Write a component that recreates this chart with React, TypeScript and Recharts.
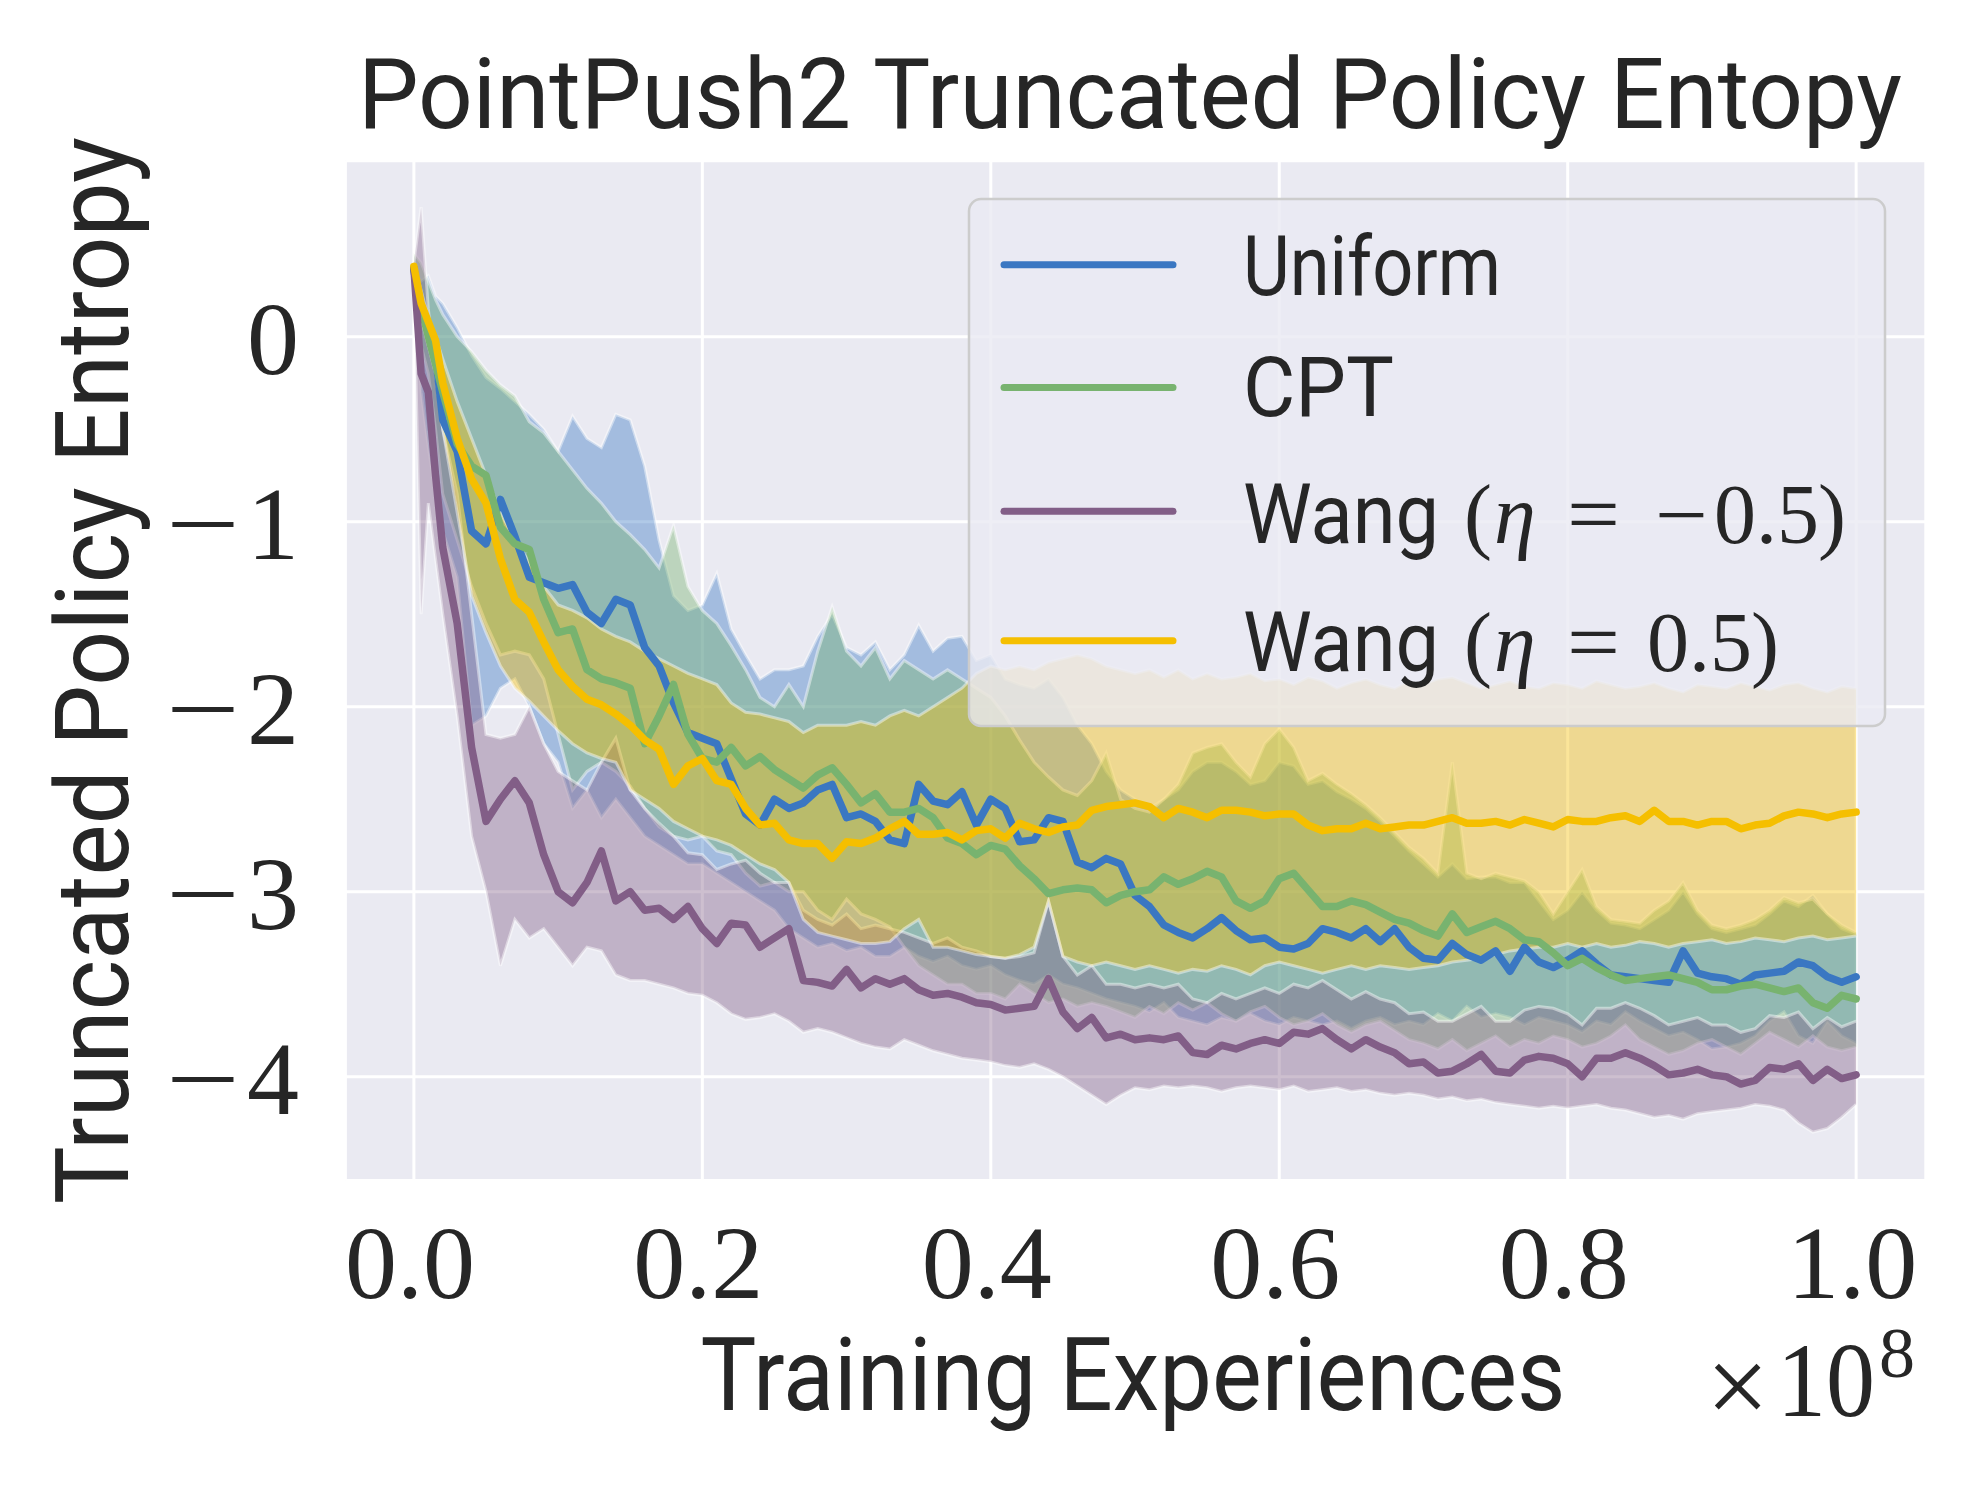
import React from 'react';
import { ComposedChart, Area, Line, XAxis, YAxis, CartesianGrid } from 'recharts';

// Training experiences (x 1e8)
const xs = [
  0, 0.005, 0.01, 0.015, 0.02,
  0.03, 0.04, 0.05, 0.06, 0.07, 0.08, 0.09,
  0.10, 0.11, 0.12, 0.13, 0.14, 0.15, 0.16, 0.17, 0.18, 0.19,
  0.20, 0.21, 0.22, 0.23, 0.24, 0.25, 0.26, 0.27, 0.28, 0.29,
  0.30, 0.31, 0.32, 0.33, 0.34, 0.35, 0.36, 0.37, 0.38, 0.39,
  0.40, 0.41, 0.42, 0.43, 0.44, 0.45, 0.46, 0.47, 0.48, 0.49,
  0.50, 0.51, 0.52, 0.53, 0.54, 0.55, 0.56, 0.57, 0.58, 0.59,
  0.60, 0.61, 0.62, 0.63, 0.64, 0.65, 0.66, 0.67, 0.68, 0.69,
  0.70, 0.71, 0.72, 0.73, 0.74, 0.75, 0.76, 0.77, 0.78, 0.79,
  0.80, 0.81, 0.82, 0.83, 0.84, 0.85, 0.86, 0.87, 0.88, 0.89,
  0.90, 0.91, 0.92, 0.93, 0.94, 0.95, 0.96, 0.97, 0.98, 0.99,
  1.0,
];

const uniformMean = [
  0.36, 0.12, 0.05, -0.1, -0.45,
  -0.62, -1.05, -1.12, -0.88, -1.08, -1.3, -1.33,
  -1.36, -1.34, -1.49, -1.55, -1.42, -1.45, -1.68, -1.78, -1.98, -2.14,
  -2.17, -2.2, -2.39, -2.58, -2.64, -2.5, -2.55, -2.52, -2.45, -2.42,
  -2.6, -2.58, -2.62, -2.72, -2.74, -2.42, -2.51, -2.53, -2.46, -2.64,
  -2.5, -2.55, -2.73, -2.72, -2.6, -2.62, -2.84, -2.87, -2.82, -2.85,
  -3.02, -3.08, -3.18, -3.22, -3.25, -3.2, -3.14, -3.21, -3.26, -3.25,
  -3.3, -3.31, -3.28, -3.2, -3.22, -3.25, -3.2, -3.27, -3.2, -3.3,
  -3.36, -3.37, -3.28, -3.34, -3.37, -3.32, -3.43, -3.3, -3.38, -3.41,
  -3.37, -3.32, -3.39, -3.45, -3.46, -3.47, -3.48, -3.49, -3.32, -3.44,
  -3.46, -3.47, -3.5, -3.45, -3.44, -3.43, -3.38, -3.4, -3.46, -3.49,
  -3.46,
];
const uniformLo = [
  0.36, -0.3, -0.6, -0.85, -1.05,
  -1.3, -2.1, -2.05, -1.9, -1.85, -2.0, -2.2,
  -2.3, -2.55, -2.45, -2.6, -2.5, -2.6, -2.7, -2.75, -2.8, -2.85,
  -2.85, -2.9, -2.95, -3.0, -3.05, -3.1, -3.2, -3.25, -3.3, -3.28,
  -3.32, -3.3, -3.35, -3.35, -3.3, -3.35, -3.38, -3.35, -3.4, -3.42,
  -3.4, -3.45, -3.48, -3.5, -3.45, -3.5, -3.52, -3.55, -3.58, -3.6,
  -3.62, -3.65, -3.6, -3.68, -3.7, -3.72, -3.68, -3.7, -3.66, -3.7,
  -3.72, -3.68, -3.7, -3.72, -3.7, -3.74, -3.7, -3.68, -3.72, -3.7,
  -3.72, -3.66, -3.7, -3.62, -3.68, -3.66, -3.68, -3.72, -3.68, -3.7,
  -3.72, -3.76, -3.7, -3.72, -3.65, -3.7, -3.74, -3.78, -3.76, -3.8,
  -3.85, -3.84, -3.82, -3.78, -3.7, -3.65, -3.78, -3.82, -3.7, -3.78,
  -3.82,
];
const uniformHi = [
  0.36, 0.3, 0.33, 0.22, 0.18,
  0.05, -0.1, -0.22, -0.28, -0.35, -0.42, -0.5,
  -0.62, -0.43, -0.55, -0.6, -0.42, -0.45, -0.7, -1.1, -1.4, -1.48,
  -1.45, -1.28, -1.58, -1.72, -1.85, -1.8, -1.8, -1.78, -1.62, -1.5,
  -1.68, -1.72, -1.65, -1.8, -1.72, -1.56, -1.7, -1.63, -1.62, -1.75,
  -1.72, -1.85, -1.88, -1.9, -1.85, -1.95, -2.1, -2.2, -2.35, -2.45,
  -2.5, -2.55, -2.5, -2.45, -2.35, -2.3, -2.3, -2.35, -2.42, -2.4,
  -2.3, -2.32, -2.42, -2.4, -2.46, -2.5, -2.55, -2.62, -2.7, -2.78,
  -2.85, -2.92, -2.85, -2.93, -2.92, -2.92, -2.95, -2.95, -3.05, -3.15,
  -3.1, -3.0, -3.1, -3.17, -3.18, -3.2, -3.15, -3.1, -3.0, -3.12,
  -3.2, -3.22, -3.2, -3.18, -3.12, -3.05, -3.08, -3.02, -3.12, -3.2,
  -3.23,
];

const cptMean = [
  0.37, 0.16, 0.0, -0.15, -0.3,
  -0.58, -0.7, -0.75, -1.03, -1.12, -1.15, -1.42,
  -1.6, -1.58, -1.8, -1.85, -1.87, -1.9, -2.2, -2.05, -1.88, -2.15,
  -2.28, -2.3, -2.22, -2.32, -2.27, -2.34, -2.39, -2.44, -2.37, -2.33,
  -2.42, -2.52, -2.47, -2.57, -2.57, -2.55, -2.6, -2.71, -2.74, -2.8,
  -2.75, -2.77, -2.86, -2.93, -3.01, -2.99, -2.98, -2.99, -3.06, -3.02,
  -3.0, -2.99, -2.92, -2.96, -2.93, -2.89, -2.92, -3.05, -3.09, -3.05,
  -2.93, -2.9, -2.99, -3.08, -3.08, -3.05, -3.07, -3.11, -3.15, -3.17,
  -3.21, -3.24, -3.12, -3.22, -3.19, -3.16, -3.2, -3.26, -3.27, -3.33,
  -3.4, -3.36, -3.41, -3.45, -3.48, -3.47, -3.46, -3.45, -3.47, -3.49,
  -3.53, -3.53, -3.51, -3.5, -3.52, -3.54, -3.52, -3.6, -3.63, -3.56,
  -3.58,
];
const cptLo = [
  0.3, -0.05, -0.2, -0.5, -0.85,
  -1.1, -1.35, -1.55, -1.72, -1.7, -1.72, -1.85,
  -2.15, -2.45, -2.35, -2.3, -2.35, -2.43, -2.55, -2.65, -2.7, -2.72,
  -2.7, -2.78, -2.8, -2.9, -2.97, -2.95, -3.0, -3.0, -3.1, -3.15,
  -3.04, -3.12, -3.15, -3.19, -3.3, -3.4, -3.45, -3.5, -3.5, -3.55,
  -3.55, -3.58, -3.5, -3.55, -3.6, -3.58, -3.62, -3.6, -3.62, -3.65,
  -3.68, -3.62, -3.66, -3.6, -3.64, -3.6, -3.66, -3.7, -3.65, -3.62,
  -3.68, -3.72, -3.7, -3.66, -3.72, -3.76, -3.72, -3.7, -3.75, -3.8,
  -3.82, -3.85, -3.8, -3.86, -3.82, -3.78, -3.84, -3.8, -3.82, -3.78,
  -3.8, -3.84, -3.82, -3.78, -3.72, -3.8, -3.84, -3.88, -3.86, -3.82,
  -3.8, -3.84, -3.88, -3.82, -3.76, -3.8, -3.84, -3.78, -3.84, -3.86,
  -3.84,
];
const cptHi = [
  0.45, 0.4, 0.3, 0.2, 0.12,
  0.0, -0.08, -0.18, -0.26, -0.32, -0.46, -0.52,
  -0.62, -0.72, -0.82, -0.9, -1.0, -1.07, -1.15, -1.25, -1.02, -1.35,
  -1.48, -1.55, -1.67, -1.8, -1.95, -2.0, -1.88, -2.0, -1.7, -1.46,
  -1.7, -1.78, -1.68, -1.85, -1.75, -1.8, -1.85, -1.8, -1.85, -1.9,
  -1.95, -2.05, -2.18, -2.3, -2.38, -2.45, -2.48, -2.4, -2.25, -2.5,
  -2.55, -2.57, -2.5, -2.42, -2.25, -2.22, -2.2, -2.3, -2.38, -2.2,
  -2.12, -2.22, -2.4, -2.36, -2.42, -2.47, -2.53, -2.6, -2.68, -2.76,
  -2.82, -2.9, -2.3, -2.9, -2.93, -2.9, -2.92, -2.94, -3.0, -3.12,
  -3.0, -2.88, -3.08, -3.15, -3.16, -3.17, -3.1, -3.05, -2.95, -3.1,
  -3.18, -3.2, -3.18, -3.15, -3.1, -3.03, -3.06, -3.04, -3.12, -3.18,
  -3.22,
];

const wangNegMean = [
  0.37, -0.2, -0.3, -0.75, -1.14,
  -1.55, -2.22, -2.62, -2.5, -2.4, -2.52, -2.8,
  -3.0, -3.06, -2.95, -2.78, -3.05, -3.0, -3.1, -3.09, -3.15, -3.08,
  -3.2, -3.28, -3.17, -3.18, -3.3, -3.25, -3.2, -3.48, -3.49, -3.51,
  -3.42, -3.52, -3.47, -3.5, -3.47, -3.53, -3.56, -3.55, -3.57, -3.6,
  -3.61, -3.64, -3.63, -3.62, -3.47, -3.65, -3.74, -3.68, -3.79, -3.77,
  -3.8, -3.79, -3.8, -3.78, -3.87, -3.88, -3.83, -3.85, -3.82, -3.8,
  -3.82, -3.76, -3.77, -3.74, -3.8, -3.85, -3.8, -3.84, -3.87, -3.93,
  -3.92, -3.98, -3.97, -3.93, -3.88, -3.97, -3.98, -3.91, -3.89, -3.9,
  -3.93, -4.0, -3.9, -3.9, -3.87, -3.9, -3.94, -3.99, -3.98, -3.96,
  -3.99, -4.0, -4.04, -4.02, -3.95, -3.96, -3.93, -4.02, -3.96, -4.01,
  -3.99,
];
const wangNegLo = [
  0.3, -1.5, -0.9, -1.2, -1.5,
  -2.05, -2.7, -3.0, -3.4, -3.15, -3.25, -3.2,
  -3.3, -3.4, -3.3, -3.32, -3.45, -3.48, -3.48, -3.5, -3.52, -3.55,
  -3.56, -3.6, -3.66, -3.69, -3.68, -3.66, -3.7, -3.76, -3.74, -3.76,
  -3.79, -3.82, -3.84, -3.85, -3.8, -3.83, -3.86, -3.88, -3.9, -3.91,
  -3.92, -3.94, -3.95, -3.93, -3.96, -4.0, -4.05, -4.1, -4.15, -4.1,
  -4.06, -4.07, -4.05, -4.06, -4.05, -4.06, -4.08, -4.06, -4.05, -4.06,
  -4.07, -4.05, -4.08, -4.07, -4.06, -4.08, -4.07, -4.09, -4.1, -4.09,
  -4.1, -4.12, -4.11, -4.13, -4.12, -4.14, -4.15, -4.16, -4.17, -4.16,
  -4.17, -4.16, -4.15, -4.17, -4.18, -4.2, -4.22, -4.21, -4.23, -4.2,
  -4.19, -4.18, -4.17, -4.15, -4.16, -4.18, -4.25, -4.3, -4.28, -4.22,
  -4.15,
];
const wangNegHi = [
  0.4, 0.7, 0.15, -0.2, -0.5,
  -0.85, -1.5, -2.15, -2.17, -2.15, -2.0, -2.2,
  -2.35, -2.4, -2.45, -2.3, -2.17, -2.45, -2.55, -2.63, -2.7, -2.79,
  -2.8, -2.88, -2.85, -2.83, -2.9, -2.95, -2.95, -3.1, -3.15, -3.18,
  -3.12, -3.2, -3.18, -3.2, -3.22, -3.25, -3.28, -3.25, -3.3, -3.32,
  -3.35, -3.36, -3.35, -3.33, -3.05, -3.35, -3.45, -3.4, -3.5, -3.5,
  -3.52, -3.5, -3.52, -3.5, -3.58, -3.6, -3.55, -3.58, -3.55, -3.52,
  -3.55, -3.5, -3.52, -3.48, -3.53, -3.58, -3.54, -3.58, -3.6, -3.66,
  -3.65, -3.7, -3.7, -3.66, -3.62, -3.7, -3.7, -3.64, -3.62, -3.63,
  -3.66, -3.72, -3.63, -3.63, -3.6, -3.63, -3.67, -3.72, -3.7, -3.68,
  -3.72, -3.72, -3.76, -3.74, -3.67, -3.68, -3.65, -3.74, -3.68, -3.73,
  -3.7,
];

const wangPosMean = [
  0.38, 0.18, 0.08, -0.02, -0.25,
  -0.55, -0.77, -0.9, -1.2, -1.42, -1.49, -1.65,
  -1.8, -1.89, -1.96, -1.99, -2.04, -2.1, -2.18, -2.23, -2.42, -2.32,
  -2.28, -2.4, -2.42, -2.55, -2.64, -2.63, -2.72, -2.74, -2.74, -2.82,
  -2.73, -2.74, -2.71, -2.66, -2.62, -2.69, -2.69, -2.68, -2.72, -2.67,
  -2.66, -2.71, -2.63, -2.66, -2.68, -2.65, -2.64, -2.56, -2.54, -2.53,
  -2.52, -2.54, -2.6, -2.55, -2.57, -2.6, -2.56, -2.56, -2.57, -2.59,
  -2.58, -2.58, -2.64, -2.67, -2.66, -2.66, -2.63, -2.66, -2.65, -2.64,
  -2.64, -2.62, -2.6, -2.63, -2.63, -2.62, -2.64, -2.61, -2.63, -2.65,
  -2.61, -2.62, -2.62, -2.6, -2.59, -2.62, -2.56, -2.62, -2.62, -2.64,
  -2.62, -2.62, -2.66, -2.64, -2.63, -2.59, -2.57, -2.58, -2.6, -2.58,
  -2.57,
];
const wangPosLo = [
  0.35, 0.1, -0.05, -0.2, -0.5,
  -0.95, -1.4, -1.6, -1.78, -1.9, -1.97, -2.05,
  -2.13, -2.2, -2.25, -2.28, -2.3, -2.45, -2.5, -2.55, -2.62, -2.66,
  -2.7, -2.72, -2.75, -2.8, -2.85, -2.88, -2.95, -3.15, -3.22, -3.24,
  -3.26, -3.28, -3.28, -3.27, -3.2, -3.15, -3.3, -3.3, -3.32, -3.34,
  -3.35, -3.36, -3.34, -3.3, -3.05, -3.35, -3.38, -3.4, -3.38, -3.4,
  -3.42, -3.4, -3.42, -3.44, -3.42, -3.43, -3.4, -3.42, -3.45, -3.4,
  -3.38, -3.4, -3.42, -3.44, -3.42, -3.4, -3.42, -3.4, -3.41, -3.42,
  -3.41, -3.4, -3.38, -3.37, -3.36, -3.34, -3.32, -3.31, -3.3, -3.3,
  -3.28, -3.3, -3.28, -3.3, -3.29, -3.27, -3.28, -3.3, -3.28, -3.27,
  -3.26, -3.28, -3.27, -3.25, -3.26, -3.27, -3.25, -3.24, -3.26, -3.25,
  -3.24,
];
const wangPosHi = [
  0.4, 0.25, 0.1, 0.0, -0.12,
  -0.35, -0.55, -0.75, -0.95, -1.1, -1.22, -1.35,
  -1.45, -1.48, -1.52, -1.58, -1.62, -1.65, -1.7, -1.74, -1.78, -1.82,
  -1.85, -1.88, -1.98, -2.03, -2.04, -2.06, -2.08, -2.14, -2.1, -2.1,
  -2.1, -2.08, -2.1, -2.05, -2.02, -2.05, -2.0, -1.95, -1.9, -1.82,
  -1.78, -1.8, -1.78, -1.8, -1.76, -1.74, -1.72, -1.74, -1.78, -1.8,
  -1.82, -1.8, -1.84, -1.8, -1.85, -1.82, -1.85, -1.84, -1.82, -1.86,
  -1.85, -1.88, -1.84, -1.86, -1.9, -1.87, -1.85, -1.88, -1.9, -1.86,
  -1.88, -1.85, -1.84, -1.87, -1.9, -1.88, -1.86, -1.89, -1.9, -1.87,
  -1.88, -1.9, -1.86, -1.88, -1.9, -1.89, -1.87, -1.9, -1.92, -1.88,
  -1.89, -1.9, -1.87, -1.89, -1.91, -1.88, -1.87, -1.9, -1.92, -1.89,
  -1.9,
];

const xTicks = [0, 0.2, 0.4, 0.6, 0.8, 1.0];
const yTicks = [-4, -3, -2, -1, 0];

const seriesNames = ['Uniform', 'CPT', 'Wang (η = −0.5)', 'Wang (η = 0.5)'];
const COLORS = ['#3A77C2', '#78B36F', '#825E87', '#F5BF00'];

const TEXT = '#262626';
const SANS = "Roboto, 'Noto Sans', sans-serif";
const SERIF = "'Liberation Serif', 'DejaVu Serif', serif";

const data = xs.map((x, i) => ({
  x,
  uMean: uniformMean[i],
  uBand: [uniformLo[i], uniformHi[i]],
  cMean: cptMean[i],
  cBand: [cptLo[i], cptHi[i]],
  nMean: wangNegMean[i],
  nBand: [wangNegLo[i], wangNegHi[i]],
  pMean: wangPosMean[i],
  pBand: [wangPosLo[i], wangPosHi[i]],
}));

const XTick = (props: any) => {
  const { x, payload } = props;
  return (
    <text x={x - 4} y={1298} textAnchor="middle" fontFamily={SERIF} fontSize={104} fill={TEXT}>
      {Number(payload.value).toFixed(1)}
    </text>
  );
};

const YTick = (props: any) => {
  const { y, payload } = props;
  const v = Number(payload.value);
  const base = y + 37;
  if (v < 0) {
    return (
      <g>
        <text x={166} y={base} textLength={74} lengthAdjust="spacingAndGlyphs" fontFamily={SERIF} fontSize={104} fill={TEXT}>
          −
        </text>
        <text x={299} y={base} textAnchor="end" fontFamily={SERIF} fontSize={104} fill={TEXT}>
          {String(Math.abs(v))}
        </text>
      </g>
    );
  }
  return (
    <text x={299} y={base} textAnchor="end" fontFamily={SERIF} fontSize={104} fill={TEXT}>
      {String(v)}
    </text>
  );
};

const bandKeys = ['uBand', 'cBand', 'nBand', 'pBand'];
const meanKeys = ['uMean', 'cMean', 'nMean', 'pMean'];

const legendRows = [264.7, 387.5, 511.3, 640.7];
const legendBaselines = [294.5, 416, 542.5, 670.5];

export default function App() {
  return (
    <div style={{ position: 'absolute', left: 0, top: 0, width: 1984, height: 1488, background: '#FFFFFF' }}>
      <ComposedChart
        width={1984}
        height={1488}
        data={data}
        margin={{ top: 160.7, right: 58.2, bottom: 0, left: 0 }}
      >
        <CartesianGrid fill="#EAEAF2" fillOpacity={1} stroke="#FFFFFF" strokeWidth={3} />
        <XAxis
          type="number"
          dataKey="x"
          domain={[-0.0475, 1.0483]}
          ticks={xTicks}
          interval={0}
          allowDataOverflow
          axisLine={false}
          tickLine={false}
          height={307.5}
          tick={<XTick />}
        />
        <YAxis
          type="number"
          domain={[-4.561, 0.951]}
          ticks={yTicks}
          interval={0}
          allowDataOverflow
          axisLine={false}
          tickLine={false}
          width={345.4}
          tick={<YTick />}
        />
        {bandKeys.map((k, i) => (
          <Area
            key={k}
            type="linear"
            dataKey={k}
            fill={COLORS[i]}
            fillOpacity={0.4}
            stroke="#FFFFFF"
            strokeOpacity={0.45}
            strokeWidth={3}
            isAnimationActive={false}
            activeDot={false}
            dot={false}
          />
        ))}
        {meanKeys.map((k, i) => (
          <Line
            key={k}
            type="linear"
            dataKey={k}
            stroke={COLORS[i]}
            strokeWidth={7.5}
            strokeLinejoin="round"
            strokeLinecap="round"
            dot={false}
            activeDot={false}
            isAnimationActive={false}
          />
        ))}
      </ComposedChart>

      <svg
        width={1984}
        height={1488}
        style={{ position: 'absolute', left: 0, top: 0, pointerEvents: 'none' }}
      >
        <text x={1130} y={128} textAnchor="middle" fontFamily={SANS} fontSize={98} fill={TEXT}
          textLength={1544} lengthAdjust="spacingAndGlyphs">
          PointPush2 Truncated Policy Entopy
        </text>
        <text x={1133} y={1410} textAnchor="middle" fontFamily={SANS} fontSize={102} fill={TEXT}
          textLength={865} lengthAdjust="spacingAndGlyphs">
          Training Experiences
        </text>
        <text transform="translate(128,670.5) rotate(-90)" textAnchor="middle" fontFamily={SANS} fontSize={102} fill={TEXT}
          textLength={1067} lengthAdjust="spacingAndGlyphs">
          Truncated Policy Entropy
        </text>
        <text x={1706} y={1424} fontFamily={SERIF} fontSize={112} fill={TEXT}>×</text>
        <text x={1777} y={1416} fontFamily={SERIF} fontSize={106} fill={TEXT} textLength={98} lengthAdjust="spacingAndGlyphs">10</text>
        <text x={1879} y={1377} fontFamily={SERIF} fontSize={72} fill={TEXT}>8</text>

        <rect x={969} y={199} width={916} height={527} rx={12} ry={12}
          fill="#EAEAF2" fillOpacity={0.8} stroke="#CCCCCC" strokeWidth={2.5} />
        {legendRows.map((ly, i) => (
          <line key={'l' + i} x1={1004} x2={1173} y1={ly} y2={ly} stroke={COLORS[i]} strokeWidth={7} strokeLinecap="round" />
        ))}
        <text x={1243} y={legendBaselines[0]} fontFamily={SANS} fontSize={84} fill={TEXT} textLength={258} lengthAdjust="spacingAndGlyphs">
          {seriesNames[0]}
        </text>
        <text x={1243} y={legendBaselines[1]} fontFamily={SANS} fontSize={84} fill={TEXT} textLength={151} lengthAdjust="spacingAndGlyphs">
          {seriesNames[1]}
        </text>
        {[2, 3].map((r) => (
          <g key={'m' + r}>
            <text x={1243} y={legendBaselines[r]} fontFamily={SANS} fontSize={84} fill={TEXT} textLength={196} lengthAdjust="spacingAndGlyphs">
              Wang
            </text>
            <text x={1464} y={legendBaselines[r]} fontFamily={SERIF} fontSize={84} fill={TEXT}>(</text>
            <text x={1494} y={legendBaselines[r]} fontFamily={SERIF} fontStyle="italic" fontSize={84} fill={TEXT}>η</text>
            <text x={1567} y={legendBaselines[r]} fontFamily={SERIF} fontSize={84} fill={TEXT} textLength={53} lengthAdjust="spacingAndGlyphs">=</text>
            {r === 2 ? (
              <>
                <text x={1655} y={legendBaselines[r]} fontFamily={SERIF} fontSize={84} fill={TEXT} textLength={53} lengthAdjust="spacingAndGlyphs">−</text>
                <text x={1714} y={legendBaselines[r]} fontFamily={SERIF} fontSize={84} fill={TEXT}>0.5</text>
                <text x={1818} y={legendBaselines[r]} fontFamily={SERIF} fontSize={84} fill={TEXT}>)</text>
              </>
            ) : (
              <>
                <text x={1647} y={legendBaselines[r]} fontFamily={SERIF} fontSize={84} fill={TEXT}>0.5</text>
                <text x={1751} y={legendBaselines[r]} fontFamily={SERIF} fontSize={84} fill={TEXT}>)</text>
              </>
            )}
          </g>
        ))}
      </svg>
    </div>
  );
}
